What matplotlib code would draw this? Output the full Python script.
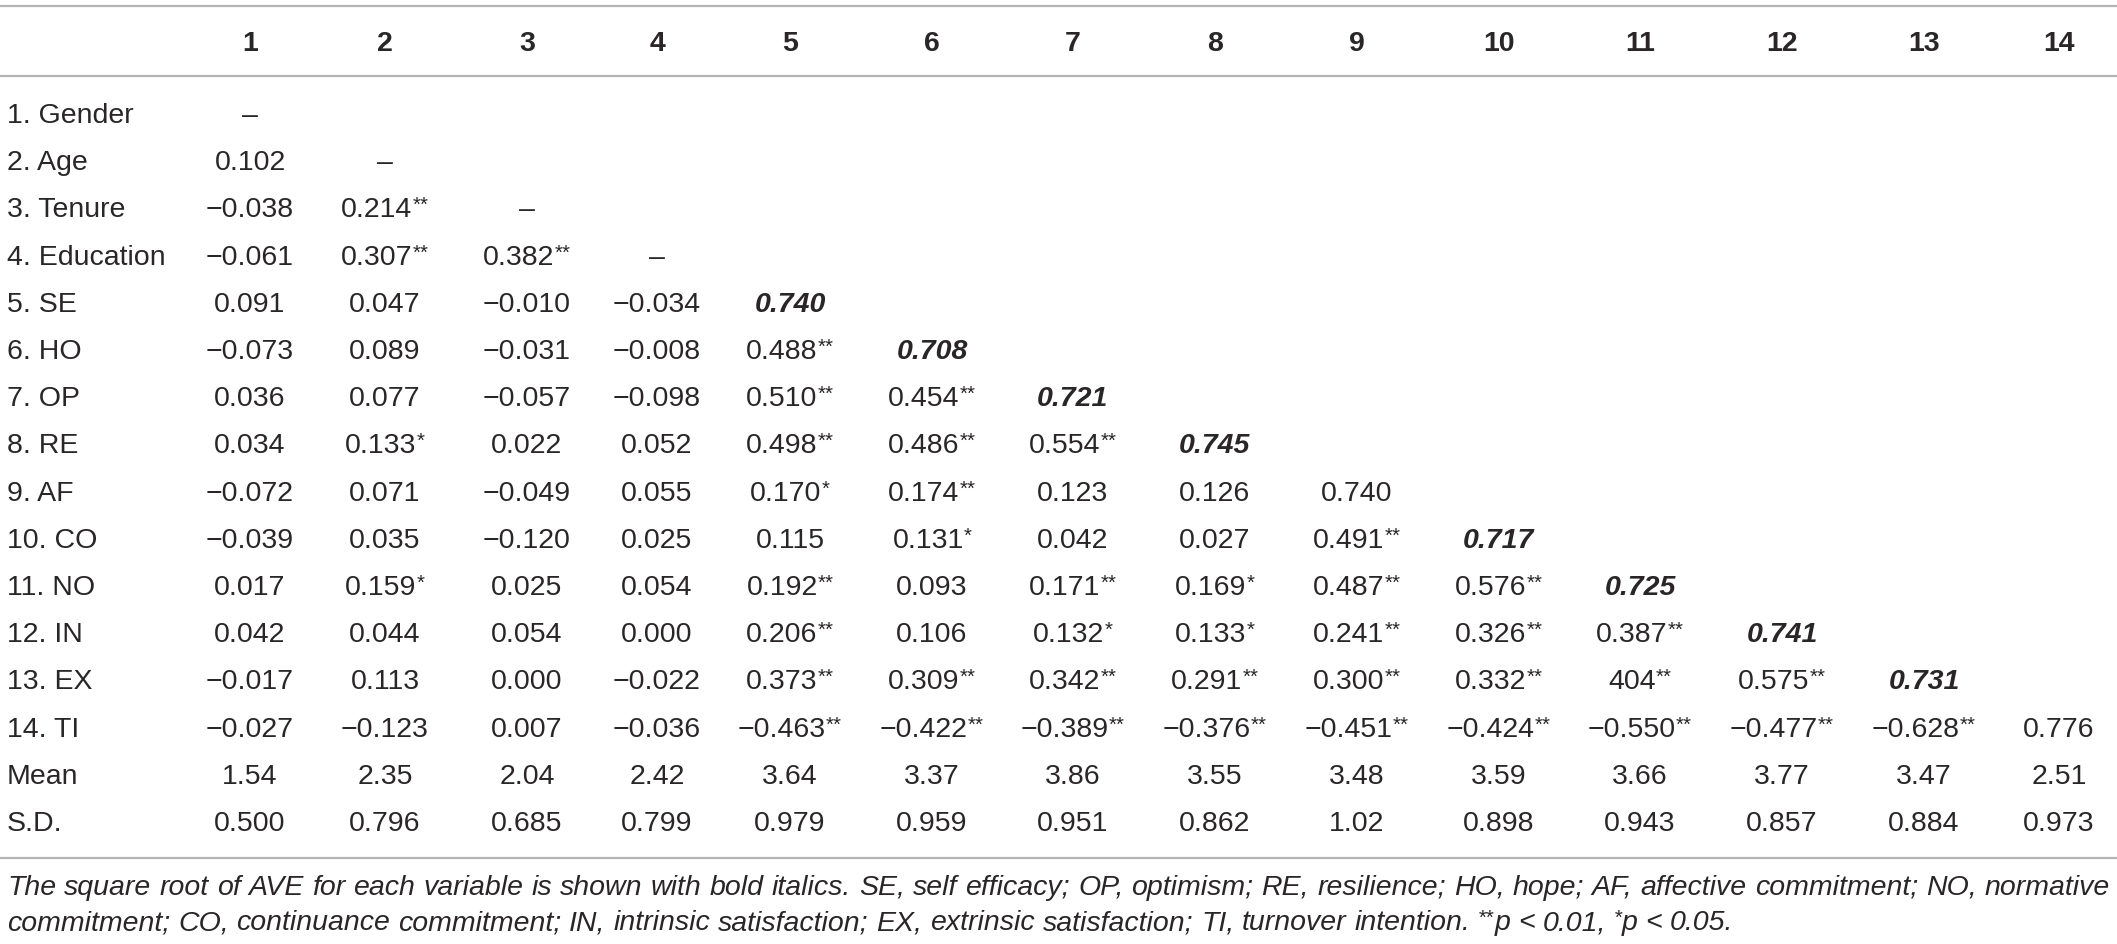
import matplotlib
matplotlib.use("Agg")
import matplotlib.pyplot as plt

plt.rcParams['font.family'] = ['Liberation Sans', 'DejaVu Sans']

# table content
col_heads = [str(i) for i in range(1, 15)]
row_labels = ["1. Gender", "2. Age", "3. Tenure", "4. Education", "5. SE", "6. HO", "7. OP",
              "8. RE", "9. AF", "10. CO", "11. NO", "12. IN", "13. EX", "14. TI"]
corr = [
    ["–"],
    ["0.102", "–"],
    ["−0.038", "0.214**", "–"],
    ["−0.061", "0.307**", "0.382**", "–"],
    ["0.091", "0.047", "−0.010", "−0.034", "0.740"],
    ["−0.073", "0.089", "−0.031", "−0.008", "0.488**", "0.708"],
    ["0.036", "0.077", "−0.057", "−0.098", "0.510**", "0.454**", "0.721"],
    ["0.034", "0.133*", "0.022", "0.052", "0.498**", "0.486**", "0.554**", "0.745"],
    ["−0.072", "0.071", "−0.049", "0.055", "0.170*", "0.174**", "0.123", "0.126", "0.740"],
    ["−0.039", "0.035", "−0.120", "0.025", "0.115", "0.131*", "0.042", "0.027", "0.491**", "0.717"],
    ["0.017", "0.159*", "0.025", "0.054", "0.192**", "0.093", "0.171**", "0.169*", "0.487**",
     "0.576**", "0.725"],
    ["0.042", "0.044", "0.054", "0.000", "0.206**", "0.106", "0.132*", "0.133*", "0.241**",
     "0.326**", "0.387**", "0.741"],
    ["−0.017", "0.113", "0.000", "−0.022", "0.373**", "0.309**", "0.342**", "0.291**", "0.300**",
     "0.332**", "404**", "0.575**", "0.731"],
    ["−0.027", "−0.123", "0.007", "−0.036", "−0.463**", "−0.422**", "−0.389**", "−0.376**",
     "−0.451**", "−0.424**", "−0.550**", "−0.477**", "−0.628**", "0.776"],
]
means = ["1.54", "2.35", "2.04", "2.42", "3.64", "3.37", "3.86", "3.55", "3.48", "3.59",
         "3.66", "3.77", "3.47", "2.51"]
sds = ["0.500", "0.796", "0.685", "0.799", "0.979", "0.959", "0.951", "0.862", "1.02", "0.898",
       "0.943", "0.857", "0.884", "0.973"]
# diagonal cells printed in bold italics (square root of AVE)
ave_bold = [False, False, False, False, True, True, True, True, False, True, True, True, True, False]

note1 = ("The square root of AVE for each variable is shown with bold italics. SE, self efficacy; "
         "OP, optimism; RE, resilience; HO, hope; AF, affective commitment; NO, normative")
note2 = [("commitment; CO, continuance commitment; IN, intrinsic satisfaction; EX, extrinsic "
          "satisfaction; TI, turnover intention. ", False), ("**", True), ("p < 0.01, ", False),
         ("*", True), ("p < 0.05.", False)]

# layout (pixels)
W, H = 2117, 944
col_x = [250, 385, 527, 657, 790, 932, 1073, 1215, 1357, 1499, 1640, 1782, 1924, 2059]
head_y = 41
row_y0, row_dy = 113, 47.2
label_x = 7
fs = 20.5         # pt, ~28 px
note_fs = 20.5
txt_col = '#2a2627'
rule_col = '#b4b4b4'

fig = plt.figure(figsize=(W / 100, H / 100), dpi=100)
ax = fig.add_axes([0, 0, 1, 1])
ax.set_xlim(0, W)
ax.set_ylim(H, 0)
ax.axis('off')
renderer = fig.canvas.get_renderer()


def width_of(t):
    return t.get_window_extent(renderer).width


def put_runs(runs, x, y, size, ha='left', **kw):
    # runs: list of (text, superscript?) drawn one after another on a baseline
    arts, widths = [], []
    for txt, sup in runs:
        rsize = size * 0.72 if sup else size
        dy = -size * 1.39 * 0.22 if sup else 0
        t = ax.text(0, y + dy, txt, fontsize=rsize, va='baseline', ha='left', color=txt_col, **kw)
        arts.append(t)
        widths.append(width_of(t))
    total = sum(widths)
    start = x - total / 2 if ha == 'center' else x
    for t, w in zip(arts, widths):
        t.set_x(start)
        start += w
    return start


def cell(s, x, y, **kw):
    num = s.rstrip('*')
    stars = s[len(num):]
    runs = [(num, False)]
    if stars:
        runs.append((stars, True))
    put_runs(runs, x, y, fs, ha='center', **kw)


base = 10  # baseline offset below row centre

# rules
for yy in (6, 76, 858):
    ax.plot([0, W], [yy, yy], color=rule_col, lw=1.6, solid_capstyle='butt')

# header
for x, h in zip(col_x, col_heads):
    ax.text(x, head_y + base, h, fontsize=fs, fontweight='bold', ha='center', va='baseline',
            color=txt_col)

# body
all_rows = row_labels + ["Mean", "S.D."]
for i, lab in enumerate(all_rows):
    y = row_y0 + i * row_dy + base
    ax.text(label_x, y, lab, fontsize=fs, ha='left', va='baseline', color=txt_col)
    if i < len(corr):
        for j, s in enumerate(corr[i]):
            if j == i and ave_bold[i]:
                cell(s, col_x[j], y, fontweight='bold', fontstyle='italic')
            else:
                cell(s, col_x[j], y)
    else:
        vals = means if lab == "Mean" else sds
        for j, s in enumerate(vals):
            cell(s, col_x[j], y)

# footnote, first line justified
n1_y, n2_y = 895, 930
left, right = 7, 2110


def space_width(size):
    a = ax.text(0, 0, "x x", fontsize=size, fontstyle='italic')
    b = ax.text(0, 0, "xx", fontsize=size, fontstyle='italic')
    sp = width_of(a) - width_of(b)
    a.remove()
    b.remove()
    return sp


words = note1.split(' ')
while True:
    w_arts = [ax.text(0, n1_y, w, fontsize=note_fs, fontstyle='italic', va='baseline',
                      ha='left', color=txt_col) for w in words]
    w_w = [width_of(t) for t in w_arts]
    space = space_width(note_fs)
    gap = (right - left - sum(w_w)) / (len(words) - 1)
    if gap >= space * 0.8:
        break
    for t in w_arts:
        t.remove()
    note_fs -= 0.25
xx = left
for t, w in zip(w_arts, w_w):
    t.set_x(xx)
    xx += w + gap

# second line: split runs into words so spaces are measured explicitly
xx = left
for txt, sup in note2:
    parts = txt.split(' ')
    for k, p in enumerate(parts):
        if p:
            xx = put_runs([(p, sup)], xx, n2_y, note_fs, fontstyle='italic')
        if k < len(parts) - 1:
            xx += space

fig.savefig('out.png', dpi=100, facecolor='white')
